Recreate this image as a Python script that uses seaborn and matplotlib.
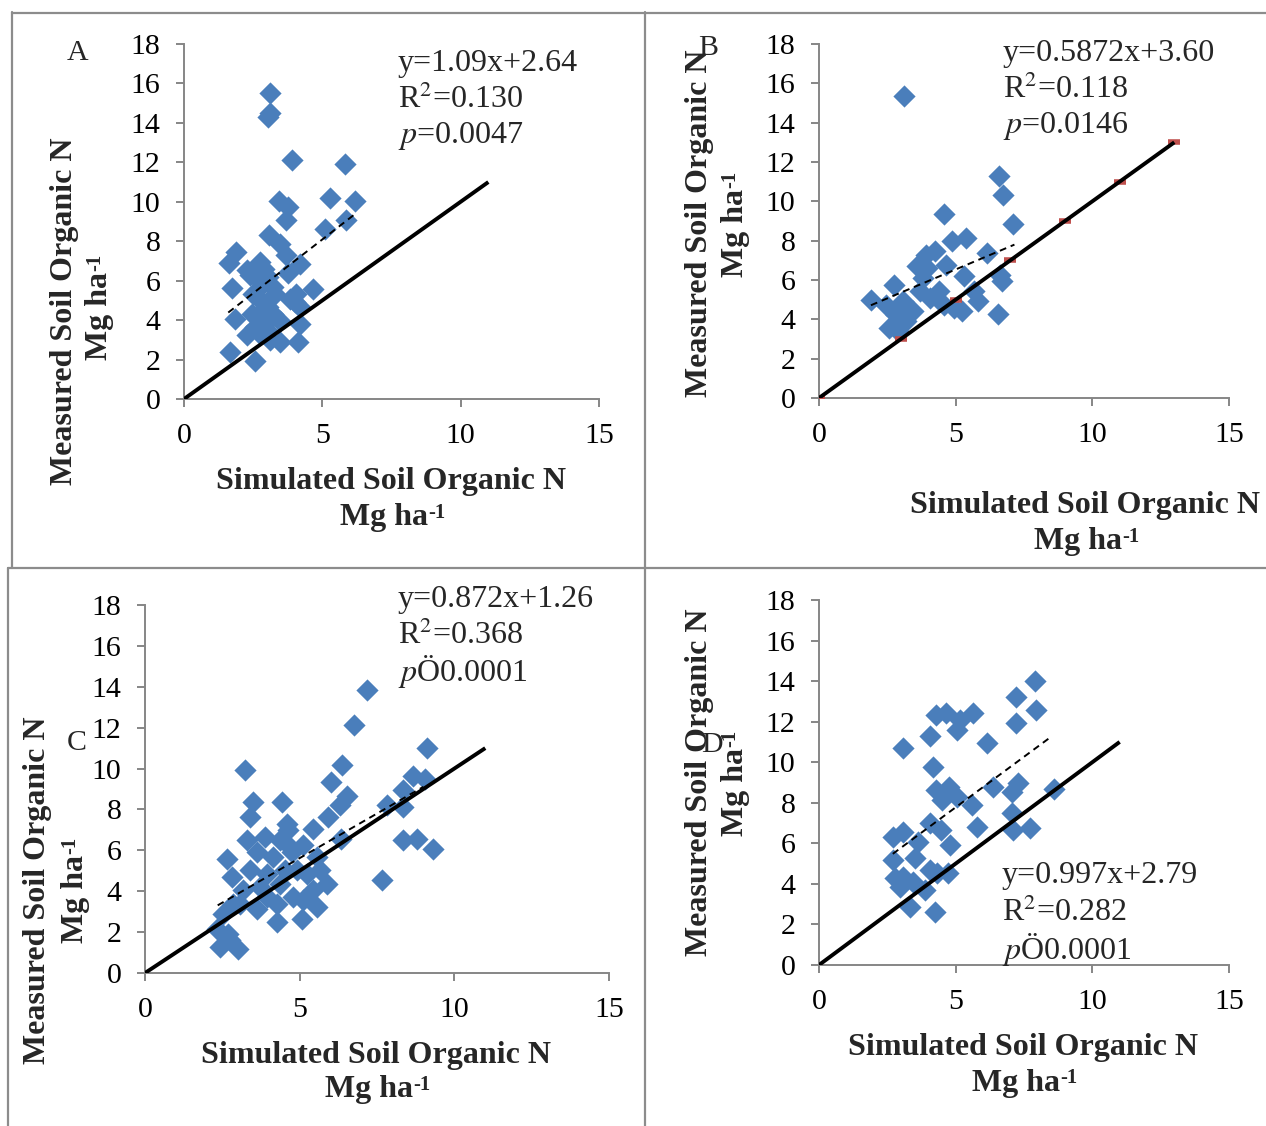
import numpy as np
import pandas as pd
import matplotlib
matplotlib.use("Agg")
import matplotlib.pyplot as plt
import seaborn as sns
from matplotlib.lines import Line2D

sns.set_theme(style="white")
plt.rcParams['font.family'] = ['Liberation Serif', 'DejaVu Serif']
plt.rcParams['mathtext.fontset'] = 'stix'

# ---------------- data ----------------
sim_A = [3.10, 3.12, 3.04, 3.92, 5.83, 3.44, 3.76, 5.26, 6.17, 3.70, 5.87, 5.08, 3.08, 3.46,
         1.88, 1.63, 2.74, 3.70, 4.18, 2.26, 2.62, 3.76, 1.75, 3.04, 3.28, 2.86, 4.66, 4.06,
         2.50, 2.74, 4.18, 1.84, 2.44, 3.22, 2.56, 3.46, 4.18, 2.92, 2.26, 2.74, 3.10, 3.46,
         4.12, 1.66, 2.56, 3.82, 3.04, 2.90, 3.20, 2.70, 3.00, 4.00, 2.40]
meas_A = [15.50, 14.50, 14.30, 12.10, 11.90, 10.05, 9.75, 10.17, 10.05, 9.07, 9.10, 8.60, 8.30, 7.88,
          7.46, 6.90, 6.95, 7.29, 6.86, 6.53, 6.19, 6.39, 5.64, 6.19, 5.34, 5.85, 5.59, 5.34,
          5.34, 5.00, 4.66, 4.07, 4.32, 4.32, 3.64, 3.98, 3.81, 3.81, 3.22, 3.30, 2.97, 2.88,
          2.88, 2.37, 1.95, 5.08, 4.66, 6.60, 5.70, 4.30, 3.50, 4.90, 6.30]

sim_B = [3.10, 6.58, 6.72, 4.57, 7.11, 4.85, 5.37, 4.25, 3.92, 6.14, 3.57, 4.63, 3.94, 2.76,
         1.89, 5.31, 3.82, 6.62, 6.68, 5.68, 4.38, 5.81, 3.69, 3.07, 2.45, 4.94, 5.25, 3.45,
         6.55, 2.57, 2.89, 3.20, 4.07, 4.57, 2.82]
meas_B = [15.34, 11.27, 10.34, 9.36, 8.85, 7.97, 8.14, 7.46, 7.29, 7.37, 6.69, 6.78, 6.61, 5.76,
          5.00, 6.19, 6.10, 6.27, 5.93, 5.42, 5.42, 4.92, 5.42, 4.92, 4.75, 4.58, 4.41, 4.41,
          4.29, 3.56, 3.39, 3.90, 5.08, 4.75, 4.24]

sim_C = [7.17, 6.77, 9.13, 3.23, 6.38, 6.01, 8.65, 9.05, 3.50, 4.42, 6.52, 6.30, 8.35, 7.81,
         8.35, 3.39, 5.93, 5.44, 4.58, 4.63, 8.35, 8.78, 9.32, 6.34, 3.29, 3.88, 4.36, 5.12,
         2.64, 3.61, 4.15, 4.74, 5.55, 2.80, 3.39, 3.93, 4.53, 5.23, 5.66, 7.65, 5.87, 5.44,
         3.18, 3.93, 4.80, 3.07, 3.61, 4.26, 5.55, 2.53, 4.26, 5.06, 2.32, 2.69, 2.42, 3.02,
         2.75, 4.58, 4.90, 4.36, 3.72, 5.12, 2.86]
meas_C = [13.83, 12.12, 11.01, 9.92, 10.16, 9.35, 9.62, 9.51, 8.37, 8.37, 8.65, 8.21, 8.94, 8.21,
          8.12, 7.63, 7.63, 7.06, 7.31, 6.98, 6.49, 6.57, 6.08, 6.57, 6.49, 6.66, 6.49, 6.25,
          5.60, 5.92, 5.68, 5.92, 5.68, 4.70, 5.02, 4.86, 5.02, 4.86, 5.02, 4.54, 4.37, 4.05,
          4.05, 3.72, 3.72, 3.39, 3.15, 3.39, 3.23, 2.90, 2.50, 2.66, 2.17, 1.92, 1.27, 1.19,
          1.60, 6.33, 5.02, 4.37, 4.21, 3.56, 3.39]

sim_D = [7.90, 7.20, 7.93, 7.21, 4.28, 4.65, 5.62, 5.16, 5.04, 4.06, 3.06, 6.13, 4.16, 4.28,
         4.77, 6.38, 7.29, 7.05, 8.61, 4.49, 5.04, 5.59, 7.05, 4.06, 5.77, 7.72, 7.11, 4.45,
         2.72, 3.06, 3.63, 4.79, 2.72, 3.51, 4.06, 4.73, 2.78, 3.45, 3.88, 4.31, 3.33, 4.24,
         3.08, 2.96]
meas_D = [14.02, 13.23, 12.57, 11.95, 12.33, 12.41, 12.44, 12.08, 11.59, 11.29, 10.68, 10.93, 9.75, 8.63,
          8.79, 8.79, 8.96, 8.55, 8.66, 8.14, 8.30, 7.89, 7.48, 6.99, 6.82, 6.74, 6.66, 6.66,
          6.33, 6.57, 6.08, 5.92, 5.18, 5.26, 4.68, 4.52, 4.27, 4.11, 3.70, 4.52, 2.87, 2.63,
          4.35, 3.86]

# 1:1 reference points
ref_A = [0, 11]
ref_B = [0, 3, 5, 7, 9, 11, 13]
ref_C = [0, 11]
ref_D = [0, 11]

# regression: slope, intercept, x-range of the dashed fit
fit_A = (1.09, 2.64, 1.60, 6.15)
fit_B = (0.5872, 3.60, 1.90, 7.15)
fit_C = (0.872, 1.26, 2.35, 9.00)
fit_D = (0.997, 2.79, 2.70, 8.50)

stats_A = ["y=1.09x+2.64", "R$^2$=0.130", "$p$=0.0047"]
stats_B = ["y=0.5872x+3.60", "R$^2$=0.118", "$p$=0.0146"]
stats_C = ["y=0.872x+1.26", "R$^2$=0.368", "$p$Ö0.0001"]
stats_D = ["y=0.997x+2.79", "R$^2$=0.282", "$p$Ö0.0001"]

x_ticks = [0, 5, 10, 15]
y_ticks = [0, 2, 4, 6, 8, 10, 12, 14, 16, 18]

# ---------------- layout (pixels) ----------------
W, H = 1266, 1126
fig = plt.figure(figsize=(W / 100, H / 100), dpi=100)

panels = [
    dict(name="A", sim=sim_A, meas=meas_A, ref=ref_A, fit=fit_A, stats=stats_A,
         box=(184, 44, 599, 399), letter=(78, 53), stat_xy=(398, 63),
         ylab=(65, 311), ylab2=(100, 309), xlab=(391, 482), xlab2=(391, 518)),
    dict(name="B", sim=sim_B, meas=meas_B, ref=ref_B, fit=fit_B, stats=stats_B,
         box=(819, 44, 1229, 398), letter=(708, 48), stat_xy=(1003, 53),
         ylab=(700, 223), ylab2=(735, 226), xlab=(1085, 506), xlab2=(1085, 542)),
    dict(name="C", sim=sim_C, meas=meas_C, ref=ref_C, fit=fit_C, stats=stats_C,
         box=(145, 605, 609, 973), letter=(77, 743), stat_xy=(398, 599),
         ylab=(38, 890), ylab2=(75, 892), xlab=(376, 1055), xlab2=(376, 1090)),
    dict(name="D", sim=sim_D, meas=meas_D, ref=ref_D, fit=fit_D, stats=stats_D,
         box=(819, 600, 1229, 965), letter=(712, 745), stat_xy=(1002, 876),
         ylab=(700, 782), ylab2=(735, 785), xlab=(1023, 1047), xlab2=(1023, 1083)),
]

blue = "#4A7EBB"
axis_grey = "#868686"
fs_tick = 21.5
fs_lab = 23
fs_sup = 15
fs_stat = 23
sup_shift = 7  # px: half the width of the superscript "-1"

for p in panels:
    l, t, r, b = p["box"]
    ax = fig.add_axes([l / W, 1 - b / H, (r - l) / W, (b - t) / H])
    df = pd.DataFrame({"sim": p["sim"], "meas": p["meas"]})
    sns.scatterplot(data=df, x="sim", y="meas", marker="D", s=128, color=blue,
                    linewidth=0, ax=ax, zorder=3, legend=False)
    ref = np.array(p["ref"], dtype=float)
    if p["name"] == "B":
        ax.plot(ref, ref, linestyle="none", marker="_", markersize=8,
                markeredgewidth=4, color="#C0504D", zorder=3.5)
    ax.plot(ref, ref, color="black", lw=2.8, zorder=4, solid_capstyle="butt")
    m, c, x0, x1 = p["fit"]
    fx = np.array([x0, x1])
    ax.plot(fx, m * fx + c, color="black", lw=1.4, ls=(0, (3.5, 2.5)), zorder=4)

    ax.set_xlim(0, 15)
    ax.set_ylim(0, 18)
    ax.set_xticks(x_ticks)
    ax.set_yticks(y_ticks)
    ax.set_xlabel("")
    ax.set_ylabel("")
    for s in ["top", "right"]:
        ax.spines[s].set_visible(False)
    for s in ["left", "bottom"]:
        ax.spines[s].set_color(axis_grey)
        ax.spines[s].set_linewidth(1.4)
    ax.tick_params(axis="both", which="major", direction="out", length=6, width=1.4,
                   color=axis_grey, labelsize=fs_tick, labelcolor="black",
                   bottom=True, left=True, pad=11)
    ax.patch.set_alpha(0)

    # stats text
    sx, sy = p["stat_xy"]
    for i, line in enumerate(p["stats"]):
        fig.text(sx / W, 1 - (sy + i * 36.5) / H, line, fontsize=fs_stat,
                 ha="left", va="center")

    # panel letter
    lx, ly = p["letter"]
    fig.text(lx / W, 1 - ly / H, p["name"], fontsize=fs_tick, ha="center", va="center")

    # axis labels
    yx, yy = p["ylab"]
    fig.text(yx / W, 1 - yy / H, "Measured Soil Organic N", fontsize=fs_lab,
             fontweight="bold", rotation=90, ha="center", va="center")
    yx2, yy2 = p["ylab2"]
    ty = fig.text(yx2 / W, 1 - (yy2 + sup_shift) / H, "Mg ha", fontsize=fs_lab,
                  fontweight="bold", rotation=90, ha="center", va="center")
    fig.text(0, 0, "-1", fontsize=fs_sup, fontweight="bold", rotation=90,
             ha="left", va="bottom").set_position((0, 0))
    fig.texts[-1].remove()
    fig.add_artist(matplotlib.text.Annotation(
        "-1", xy=(0, 1), xycoords=ty, xytext=(-0.5, 0.5), textcoords="offset points",
        fontsize=fs_sup, fontweight="bold", rotation=90, ha="left", va="bottom"))

    xx, xy = p["xlab"]
    fig.text(xx / W, 1 - xy / H, "Simulated Soil Organic N", fontsize=fs_lab,
             fontweight="bold", ha="center", va="center")
    xx2, xy2 = p["xlab2"]
    tx = fig.text((xx2 - sup_shift) / W, 1 - xy2 / H, "Mg ha", fontsize=fs_lab,
                  fontweight="bold", ha="center", va="center")
    fig.add_artist(matplotlib.text.Annotation(
        "-1", xy=(1, 1), xycoords=tx, xytext=(0.5, 0.5), textcoords="offset points",
        fontsize=fs_sup, fontweight="bold", ha="left", va="top"))

# panel border lines
border = "#8c8c8c"
def hline(y, x0, x1):
    fig.add_artist(Line2D([x0 / W, x1 / W], [1 - y / H, 1 - y / H],
                          transform=fig.transFigure, color=border, lw=1.6))
def vline(x, y0, y1):
    fig.add_artist(Line2D([x / W, x / W], [1 - y0 / H, 1 - y1 / H],
                          transform=fig.transFigure, color=border, lw=1.6))

hline(12.5, 12, 1266)
hline(568, 8, 1266)
vline(12, 12, 568)
vline(645, 12, 1126)
vline(8, 568, 1126)

fig.savefig("out.png", dpi=100)
